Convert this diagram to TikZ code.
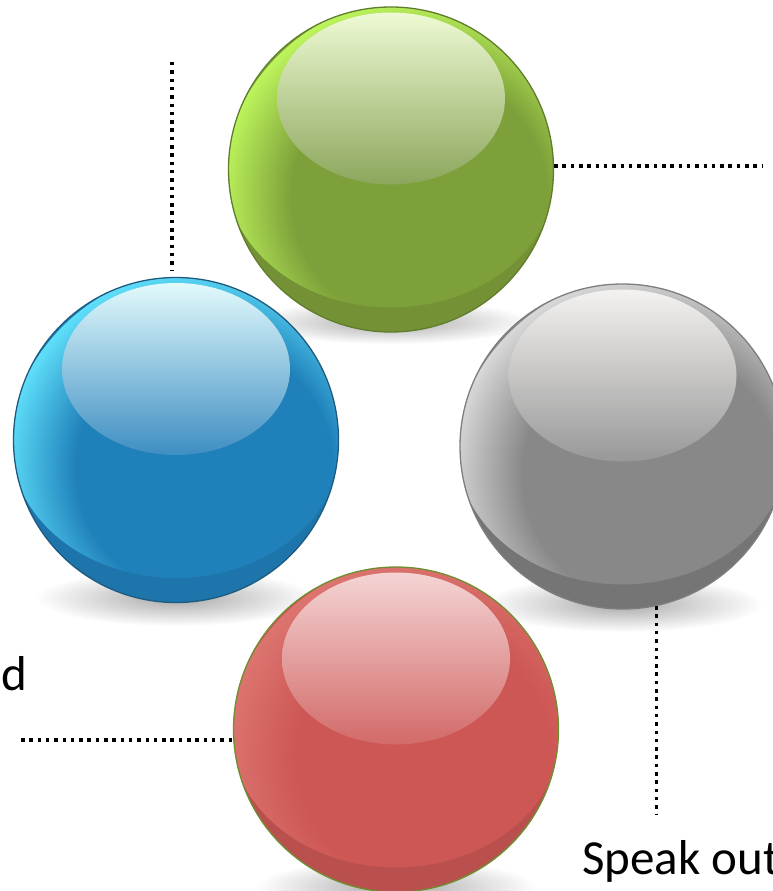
\documentclass[tikz,border=0pt]{standalone}
\usepackage{fontspec}
\setmainfont{Carlito}
\usetikzlibrary{fadings,calc}
\tikzfading[name=shadowfade, inner color=transparent!66, outer color=transparent!100]
\definecolor{gbase}{HTML}{7EA03A}\definecolor{glight}{HTML}{BDF55C}\definecolor{gdark}{HTML}{62792C}
\definecolor{ghtop}{HTML}{EEFAD4}\definecolor{ghbot}{HTML}{8CA65C}\definecolor{gline}{HTML}{5F7D2C}
\definecolor{bbase}{HTML}{1F80BA}\definecolor{blight}{HTML}{5FDFFA}\definecolor{bdark}{HTML}{1A6290}
\definecolor{bhtop}{HTML}{E2FAFC}\definecolor{bhbot}{HTML}{3E8EC2}\definecolor{bline}{HTML}{1E5B7E}
\definecolor{ybase}{HTML}{888888}\definecolor{ylight}{HTML}{D8D8D8}\definecolor{ydark}{HTML}{525252}
\definecolor{yhtop}{HTML}{F4F2F0}\definecolor{yhbot}{HTML}{989898}\definecolor{yline}{HTML}{7E7E7E}
\definecolor{rbase}{HTML}{CD5754}\definecolor{rlight}{HTML}{DC7470}\definecolor{rdark}{HTML}{984242}
\definecolor{rhtop}{HTML}{F4D4D4}\definecolor{rhbot}{HTML}{D26A68}\definecolor{rline}{HTML}{6E8E30}
\pgfdeclareradialshading{gsh}{\pgfpoint{0bp}{0bp}}{color(0bp)=(gbase); color(16bp)=(gbase); color(25bp)=(glight); color(50bp)=(glight)}
\pgfdeclareradialshading{bsh}{\pgfpoint{0bp}{0bp}}{color(0bp)=(bbase); color(16bp)=(bbase); color(25bp)=(blight); color(50bp)=(blight)}
\pgfdeclareradialshading{ysh}{\pgfpoint{0bp}{0bp}}{color(0bp)=(ybase); color(16bp)=(ybase); color(25bp)=(ylight); color(50bp)=(ylight)}
\pgfdeclareradialshading{rsh}{\pgfpoint{0bp}{0bp}}{color(0bp)=(rbase); color(16bp)=(rbase); color(25bp)=(rlight); color(50bp)=(rlight)}
\begin{document}
\begin{tikzpicture}[x=1pt,y=-1pt,
  ball/.style n args={7}{circle, inner sep=0pt, minimum size=325pt, draw=#6, line width=1.3pt,
    path picture={
      \coordinate (pc) at (path picture bounding box.center);
      \fill[#1] ($(pc)+(-170,-170)$) rectangle ($(pc)+(170,170)$);
      \shade[shading=#7] ($(pc)+(28,28)$) circle (200pt);
      \begin{scope}
        \clip ($(pc)+(-170,0)$) rectangle ($(pc)+(170,170)$);
        \shade[left color=#3!35!#1, middle color=#3, right color=#3!35!#1, even odd rule]
          (pc) circle (170pt) ($(pc)+(0,4)$) ellipse (165pt and 134pt);
      \end{scope}
      \shade[top color=#4, bottom color=#5] ($(pc)+(0,-71)$) ellipse (114pt and 86pt);
    }},
  dotline/.style={line width=3.5pt, dash pattern=on 3.5pt off 4.8pt, black},
  label/.style={anchor=base west, inner sep=0pt, font=\fontsize{49}{58}\selectfont, text=black}
]
\useasboundingbox (0,0) rectangle (773,891);
\clip (0,0) rectangle (773,891);
\fill[white] (0,0) rectangle (773,891);
% soft shadows
\fill[black, path fading=shadowfade] (391,322) ellipse (140pt and 22pt);
\fill[black, path fading=shadowfade] (176,598) ellipse (140pt and 28pt);
\fill[black, path fading=shadowfade] (622.5,604) ellipse (140pt and 28pt);
\fill[black, path fading=shadowfade] (396,887) ellipse (140pt and 28pt);
% spheres
\node[ball={gbase}{glight}{gdark}{ghtop}{ghbot}{gline}{gsh}] (green) at (391,169.5) {};
\node[ball={bbase}{blight}{bdark}{bhtop}{bhbot}{bline}{bsh}] (blue) at (176,440) {};
\node[ball={ybase}{ylight}{ydark}{yhtop}{yhbot}{yline}{ysh}] (gray) at (622.5,446.5) {};
\node[ball={rbase}{rlight}{rdark}{rhtop}{rhbot}{rline}{rsh}] (red) at (396,729.5) {};
% connector ends
\coordinate (bEnd) at (172,62);
\coordinate (gEnd) at (762,166);
\coordinate (yEnd) at (656,815);
\coordinate (rEnd) at (21,740);
\draw[dotline, shorten >=6pt] (bEnd) -- (bEnd |- blue.north);
\draw[dotline] (gEnd -| green.east) -- (gEnd);
\draw[dotline] (gray.-78) -- (gray.-78 |- yEnd);
\draw[dotline] (rEnd) -- (rEnd -| red.west);
% labels
\node[label] (dtext) at (1,690) {d};
\node[label] (speak) at (582,874) {Speak out};
\end{tikzpicture}
\end{document}
